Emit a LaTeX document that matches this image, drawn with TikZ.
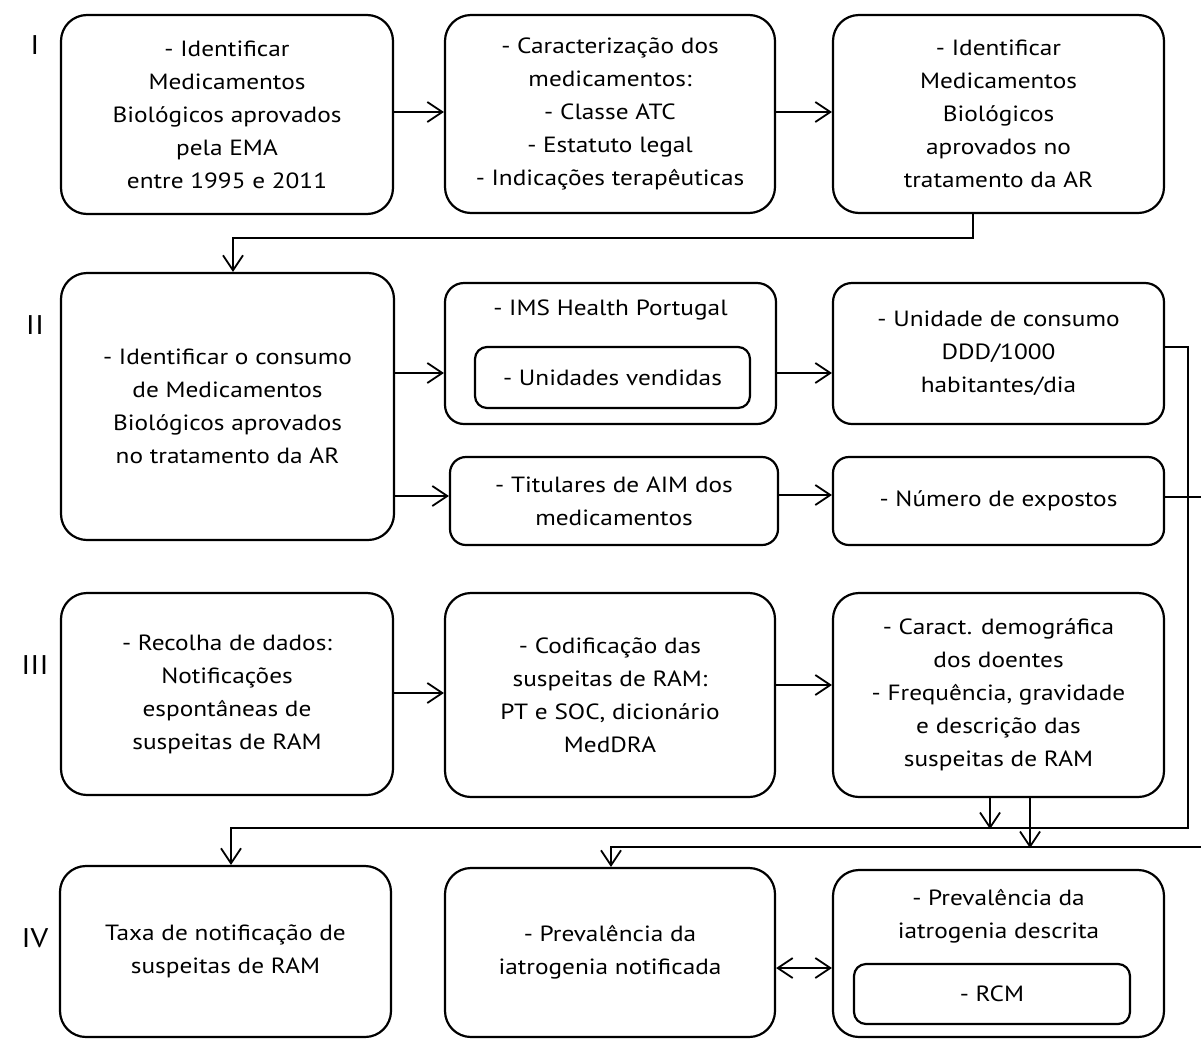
\documentclass[tikz,border=0pt]{standalone}
\usepackage{fontspec}
\setmainfont{PT Sans}[FakeStretch=1.15]
\usetikzlibrary{arrows.meta}
\begin{document}
\begin{tikzpicture}[x=1pt,y=-1pt,
  box/.style={draw, line width=2.2pt, rounded corners=26pt, align=center, inner sep=0pt, font=\fontsize{22}{33}\selectfont},
  midbox/.style={box, rounded corners=19pt},
  smallbox/.style={box, rounded corners=16pt},
  innerbox/.style={box, rounded corners=12pt},
  txt/.style={align=center, inner sep=0pt, font=\fontsize{22}{33}\selectfont},
  roman/.style={inner sep=0pt, font=\fontsize{27}{30}\selectfont},
  arr/.style={line width=1.8pt, -{Straight Barb[length=15pt,width=20pt,line width=1.8pt]}},
  darr/.style={line width=1.8pt, {Straight Barb[length=15pt,width=20pt,line width=1.8pt]}-{Straight Barb[length=15pt,width=20pt,line width=1.8pt]}},
  ln/.style={line width=1.8pt}
]
\useasboundingbox (0,0) rectangle (1201,1039);

% roman numerals
\node[roman] (r1) at (35,45) {I};
\node[roman] (r2) at (35,325) {II};
\node[roman] (r3) at (35,665) {III};
\node[roman] (r4) at (35,938) {IV};

% Row I
\node[box, minimum width=332pt, minimum height=199pt] (b1) at (227,114.5)
  {- Identificar\\Medicamentos\\Biológicos aprovados\\pela EMA\\entre 1995 e 2011};
\node[box, minimum width=330pt, minimum height=198pt] (b2) at (610,114)
  {- Caracterização dos\\medicamentos:\\- Classe ATC\\- Estatuto legal\\- Indicações terapêuticas};
\node[box, minimum width=331pt, minimum height=198pt] (b3) at (998.5,114)
  {- Identificar\\Medicamentos\\Biológicos\\aprovados no\\tratamento da AR};

% Row II
\node[box, minimum width=333pt, minimum height=267pt] (b4) at (227.5,406.5)
  {- Identificar o consumo\\de Medicamentos\\Biológicos aprovados\\no tratamento da AR};
\node[midbox, minimum width=331pt, minimum height=141pt] (b5) at (610.5,353.5) {};
\node[txt] (b5t) at (610.5,310) {- IMS Health Portugal};
\node[innerbox, minimum width=275pt, minimum height=61pt] (b5in) at (612.5,377.5) {- Unidades vendidas};
\node[midbox, minimum width=331pt, minimum height=141pt] (b6) at (998.5,353.5)
  {- Unidade de consumo\\DDD/1000\\habitantes/dia};
\node[smallbox, minimum width=328pt, minimum height=88pt] (b7) at (614,501)
  {- Titulares de AIM dos\\medicamentos};
\node[smallbox, minimum width=331pt, minimum height=88pt] (b8) at (998.5,501)
  {- Número de expostos};

% Row III
\node[box, minimum width=332pt, minimum height=202pt] (b9) at (227,694)
  {- Recolha de dados:\\Notificações\\espontâneas de\\suspeitas de RAM};
\node[box, minimum width=330pt, minimum height=204pt] (b10) at (610,695)
  {- Codificação das\\suspeitas de RAM:\\PT e SOC, dicionário\\MedDRA};
\node[box, minimum width=331pt, minimum height=204pt] (b11) at (998.5,695)
  {- Caract. demográfica\\dos doentes\\- Frequência, gravidade\\e descrição das\\suspeitas de RAM};

% Row IV
\node[box, minimum width=331pt, minimum height=171pt] (b12) at (225.5,951.5)
  {Taxa de notificação de\\suspeitas de RAM};
\node[box, minimum width=330pt, minimum height=169pt] (b13) at (610,952.5)
  {- Prevalência da\\iatrogenia notificada};
\node[box, minimum width=331pt, minimum height=167pt] (b14) at (998.5,953.5) {};
\node[txt] (b14t) at (998.5,916) {- Prevalência da\\iatrogenia descrita};
\node[innerbox, minimum width=276pt, minimum height=60pt] (b14in) at (992,994) {- RCM};

% Row I arrows
\draw[arr] ([yshift=2.5pt]b1.east) -- ([yshift=2.5pt]b1.east -| b2.west);
\draw[arr] ([yshift=2pt]b2.east) -- ([yshift=2pt]b2.east -| b3.west);
\draw[arr] ([xshift=-25.5pt]b3.south) -- ++(0,24) -| ([xshift=5.5pt]b4.north);

% Row II arrows
\draw[arr] ([yshift=-19.5pt]b5.west -| b4.east) -- ([yshift=-19.5pt]b5.west);
\draw[arr] ([yshift=-19.5pt]b5.east) -- ([yshift=-19.5pt]b6.west);
\draw[arr] ([yshift=5pt]b7.west -| b4.east) -- ([yshift=5pt]b7.west);
\draw[arr] ([yshift=6pt]b7.east) -- ([yshift=6pt]b7.east -| b8.west);

% Row III arrows
\draw[arr] ([yshift=1pt]b9.east) -- ([yshift=1pt]b9.east -| b10.west);
\draw[arr] ([yshift=10pt]b10.east) -- ([yshift=10pt]b10.east -| b11.west);

% long connectors
\coordinate (c1) at (1188,347);
\coordinate (c2) at (1188,828);
\draw[arr] ([yshift=6.5pt]b6.east) -- (c1) -- (c2) -| ([xshift=5.5pt]b12.north);
\coordinate (c3) at (1215,497);
\coordinate (c4) at (1215,847);
\draw[arr] ([yshift=4pt]b8.east) -- (c3) -- (c4) -| ([xshift=1pt]b13.north);
\draw[arr] ([xshift=-8.5pt]b11.south) -- ++(0,31);
\draw[arr] ([xshift=31.5pt]b11.south) -- ++(0,50);

% Row IV
\draw[darr] ([yshift=-15.5pt]b13.east) -- ([yshift=-15.5pt]b13.east -| b14.west);
\end{tikzpicture}
\end{document}
